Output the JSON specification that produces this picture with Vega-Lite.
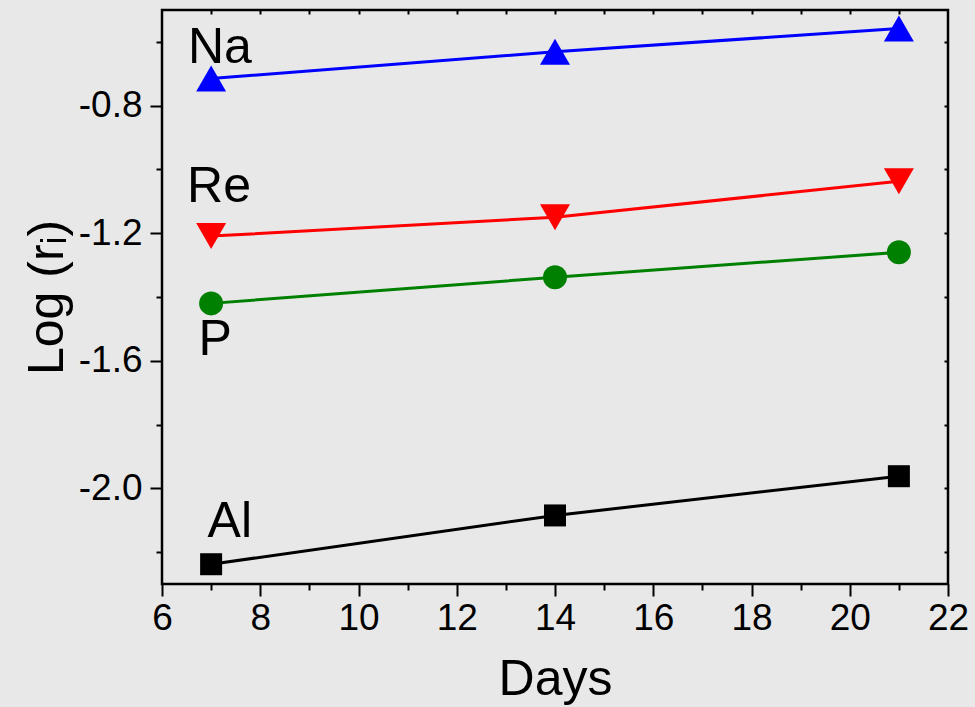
{
  "$schema": "https://vega.github.io/schema/vega-lite/v6.json",
  "width": 786,
  "height": 574,
  "autosize": {"type": "none"},
  "padding": {"left": 162, "top": 10, "right": 27, "bottom": 123},
  "background": "#e8e8e8",
  "config": {
    "view": {"stroke": "black", "strokeWidth": 2.5, "fill": "#e8e8e8"},
    "font": "Liberation Sans",
    "axis": {"grid": false, "domain": false, "labelFont": "Liberation Sans", "titleFont": "Liberation Sans", "labelColor": "black", "titleColor": "black", "tickColor": "black", "tickWidth": 2, "titleFontWeight": "normal", "labelOverlap": false, "labelFlush": false}
  },
  "datasets": {
    "series": [
      {"element": "Na", "day": 7, "logr": -0.715},
      {"element": "Na", "day": 14, "logr": -0.631},
      {"element": "Na", "day": 21, "logr": -0.558},
      {"element": "Re", "day": 7, "logr": -1.209},
      {"element": "Re", "day": 14, "logr": -1.15},
      {"element": "Re", "day": 21, "logr": -1.037},
      {"element": "P", "day": 7, "logr": -1.42},
      {"element": "P", "day": 14, "logr": -1.338},
      {"element": "P", "day": 21, "logr": -1.26},
      {"element": "Al", "day": 7, "logr": -2.238},
      {"element": "Al", "day": 14, "logr": -2.085},
      {"element": "Al", "day": 21, "logr": -1.962}
    ],
    "labels": [
      {"element": "Na", "day": 7.18, "logr": -0.665},
      {"element": "Re", "day": 7.16, "logr": -1.103},
      {"element": "P", "day": 7.08, "logr": -1.583},
      {"element": "Al", "day": 7.38, "logr": -2.154}
    ]
  },
  "layer": [
    {
      "data": {"name": "series"},
      "mark": {"type": "line", "strokeWidth": 3},
      "encoding": {
        "x": {"field": "day", "type": "quantitative", "scale": {"domain": [6, 22], "nice": false, "zero": false},
          "axis": {"orient": "bottom", "title": "Days", "titleFontSize": 50, "titlePadding": 18, "labelFontSize": 37, "labelPadding": 4,
            "values": [6,7,8,9,10,11,12,13,14,15,16,17,18,19,20,21,22],
            "tickSize": {"condition": {"test": "datum.value % 2 == 0", "value": 12}, "value": 6},
            "labelExpr": "datum.value % 2 == 0 ? datum.label : ''"}},
        "y": {"field": "logr", "type": "quantitative", "scale": {"domain": [-2.3, -0.5], "nice": false, "zero": false},
          "axis": {"orient": "left", "title": "Log (rᵢ)", "titleFontSize": 50, "titlePadding": 6, "labelFontSize": 37, "labelPadding": 8,
            "values": [-2.2,-2.0,-1.8,-1.6,-1.4,-1.2,-1.0,-0.8,-0.6],
            "tickSize": {"condition": {"test": "abs(round(datum.value*10)) % 4 == 0", "value": 12}, "value": 6},
            "labelExpr": "abs(round(datum.value*10)) % 4 == 0 ? '-' + format(abs(datum.value), '.1f') : ''"}},
        "color": {"field": "element", "type": "nominal", "scale": {"domain": ["Na","Re","P","Al"], "range": ["#0000ff","#ff0000","#008000","#000000"]}, "legend": null},
        "detail": {"field": "element"}
      }
    },
    {
      "data": {"name": "series"},
      "transform": [{"filter": "datum.element == 'Na' || datum.element == 'Re'"}],
      "mark": {"type": "point", "filled": true, "opacity": 1, "size": 900, "strokeWidth": 0},
      "encoding": {
        "x": {"field": "day", "type": "quantitative", "scale": {"domain": [6, 22], "nice": false, "zero": false},
          "axis": {"orient": "top", "title": null, "labels": false, "tickSize": -4,
            "values": [7,8,9,10,11,12,13,14,15,16,17,18,19,20,21]}},
        "y": {"field": "logr", "type": "quantitative", "scale": {"domain": [-2.3, -0.5], "nice": false, "zero": false},
          "axis": {"orient": "right", "title": null, "labels": false, "tickSize": -4,
            "values": [-2.2,-2.0,-1.8,-1.6,-1.4,-1.2,-1.0,-0.8,-0.6]}},
        "color": {"field": "element", "type": "nominal", "scale": {"domain": ["Na","Re","P","Al"], "range": ["#0000ff","#ff0000","#008000","#000000"]}, "legend": null},
        "shape": {"field": "element", "type": "nominal", "scale": {"domain": ["Na","Re","P","Al"], "range": ["triangle-up","triangle-down","circle","square"]}, "legend": null}
      }
    },
    {
      "data": {"name": "series"},
      "transform": [{"filter": "datum.element == 'P'"}],
      "mark": {"type": "circle", "opacity": 1, "size": 576, "color": "#008000"},
      "encoding": {
        "x": {"field": "day", "type": "quantitative", "scale": {"domain": [6, 22], "nice": false, "zero": false}, "axis": null},
        "y": {"field": "logr", "type": "quantitative", "scale": {"domain": [-2.3, -0.5], "nice": false, "zero": false}, "axis": null}
      }
    },
    {
      "data": {"name": "series"},
      "transform": [{"filter": "datum.element == 'Al'"}],
      "mark": {"type": "square", "opacity": 1, "size": 484, "color": "#000000"},
      "encoding": {
        "x": {"field": "day", "type": "quantitative", "scale": {"domain": [6, 22], "nice": false, "zero": false}, "axis": null},
        "y": {"field": "logr", "type": "quantitative", "scale": {"domain": [-2.3, -0.5], "nice": false, "zero": false}, "axis": null}
      }
    },
    {
      "data": {"name": "labels"},
      "mark": {"type": "text", "font": "Liberation Sans", "fontSize": 50, "align": "center", "baseline": "alphabetic", "color": "black"},
      "encoding": {
        "x": {"field": "day", "type": "quantitative", "scale": {"domain": [6, 22], "nice": false, "zero": false}, "axis": null},
        "y": {"field": "logr", "type": "quantitative", "scale": {"domain": [-2.3, -0.5], "nice": false, "zero": false}, "axis": null},
        "text": {"field": "element"}
      }
    }
  ],
  "resolve": {"axis": {"x": "independent", "y": "independent"}}
}
